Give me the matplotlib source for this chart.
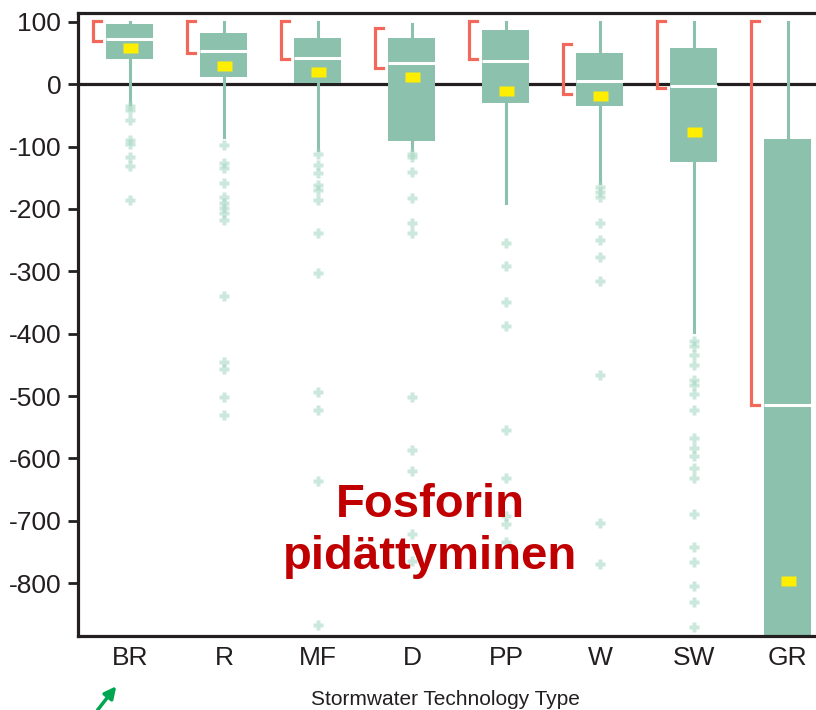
import numpy as np
import matplotlib.pyplot as plt

# Fosforin pidattyminen (%) eri hulevesiratkaisuissa
tyypit = ["BR", "R", "MF", "D", "PP", "W", "SW", "GR"]

ylaviiksi = [100, 100, 100, 96, 100, 100, 100, 100]
q3 = [96, 82, 74, 74, 87, 50, 59, -87]
mediaani = [72, 53, 43, 34, 38, 5, -2, -514]
q1 = [40, 12, 2, -91, -30, -35, -125, -1000]
alaviiksi = [-31, -85, -106, -106, -190, -159, -398, -1000]
keskiarvo = [59, 30, 19, 12, -10, -18, -77, -796]

# punaiset hakaset (ylä- ja alapää)
hakanen_yla = [101, 101, 101, 91, 101, 64, 101, 101]
hakanen_ala = [69, 51, 40, 26, 40, -15, -6, -514]

poikkeavat = [
    [-35, -42, -58, -90, -95, -117, -131, -185],
    [-98, -127, -135, -158, -181, -190, -199, -207, -218, -339, -446, -457, -502, -530],
    [-111, -130, -143, -161, -170, -185, -239, -302, -493, -522, -636, -868],
    [-111, -117, -141, -183, -223, -239, -502, -586, -621, -722, -764],
    [-254, -291, -350, -387, -555, -632, -692, -705, -735],
    [-165, -172, -181, -223, -250, -277, -316, -467, -703, -769],
    [-411, -419, -435, -451, -475, -483, -496, -523, -568, -584, -597,
     -616, -632, -689, -743, -767, -804, -831, -870],
    [],
]

vihrea = "#8bc1ad"
musta = "#231f20"

fig = plt.figure(figsize=(8.16, 7.10), dpi=100)
ax = fig.add_axes([78 / 816, 1 - 636 / 710, 1 - 78 / 816, (636 - 13) / 710])

stats = []
for i in range(len(tyypit)):
    stats.append(dict(med=mediaani[i], q1=q1[i], q3=q3[i],
                      whislo=alaviiksi[i], whishi=ylaviiksi[i],
                      mean=keskiarvo[i], fliers=poikkeavat[i]))

paikat = np.arange(1, len(tyypit) + 1)
suorakaide = [(-1.4, -1), (1.4, -1), (1.4, 1), (-1.4, 1), (-1.4, -1)]

ax.axhline(0, color=musta, lw=2.3, zorder=1)
ax.bxp(stats, positions=paikat, widths=0.5, patch_artist=True,
       showcaps=False, showmeans=True,
       boxprops=dict(facecolor=vihrea, edgecolor="none"),
       whiskerprops=dict(color=vihrea, lw=2.2),
       medianprops=dict(color="white", lw=2.2),
       meanprops=dict(marker=suorakaide, markerfacecolor="#ffee00",
                      markeredgecolor="none", markersize=10.8),
       flierprops=dict(marker="P", markerfacecolor="#a3d6c2", alpha=0.55,
                       markeredgecolor="none", markersize=7))

# hakaset laatikoiden vasemmalla puolella
for x, yla, ala in zip(paikat, hakanen_yla, hakanen_ala):
    xv = x - 0.395
    ax.plot([xv + 0.085, xv, xv, xv + 0.085], [yla, yla, ala, ala],
            color="#f0695a", lw=2.3, solid_joinstyle="miter", zorder=3)

ax.set_xlim(0.447, 8.30)
ax.set_ylim(-885, 114.4)
ax.set_yticks(np.arange(100, -801, -100))
ax.set_yticklabels([str(v) if v >= 0 else "-" + str(-v) for v in range(100, -801, -100)])
ax.set_xticks(paikat)
ax.set_xticklabels(tyypit)

ax.spines["right"].set_visible(False)
for s in ["left", "bottom", "top"]:
    ax.spines[s].set_linewidth(2.3)
    ax.spines[s].set_color(musta)

ax.tick_params(axis="y", length=7, width=2, color=musta, pad=5,
               labelsize=19, labelcolor=musta)
ax.tick_params(axis="x", length=0, pad=7, labelsize=19, labelcolor=musta)
for t in ax.get_xticklabels() + ax.get_yticklabels():
    t.set_family("Liberation Sans")

fig.text(445 / 816, 5 / 710, "Stormwater Technology Type", ha="center",
         va="baseline", fontsize=15, family="Liberation Sans", color=musta)

fig.text(430 / 816, 1 - 517 / 710, "Fosforin", ha="center", va="baseline",
         fontsize=34, fontweight="bold", family="Liberation Sans", color="#c00000")
fig.text(430 / 816, 1 - 569 / 710, "pidättyminen", ha="center", va="baseline",
         fontsize=34, fontweight="bold", family="Liberation Sans", color="#c00000")

ax.annotate("", xy=(118 / 816, 1 - 684 / 710), xytext=(96 / 816, 1 - 712 / 710),
            xycoords="figure fraction", textcoords="figure fraction",
            arrowprops=dict(arrowstyle="-|>,head_width=0.35,head_length=0.7",
                            color="#00a651", lw=2.5), annotation_clip=False)

plt.savefig("out.png", dpi=100)
